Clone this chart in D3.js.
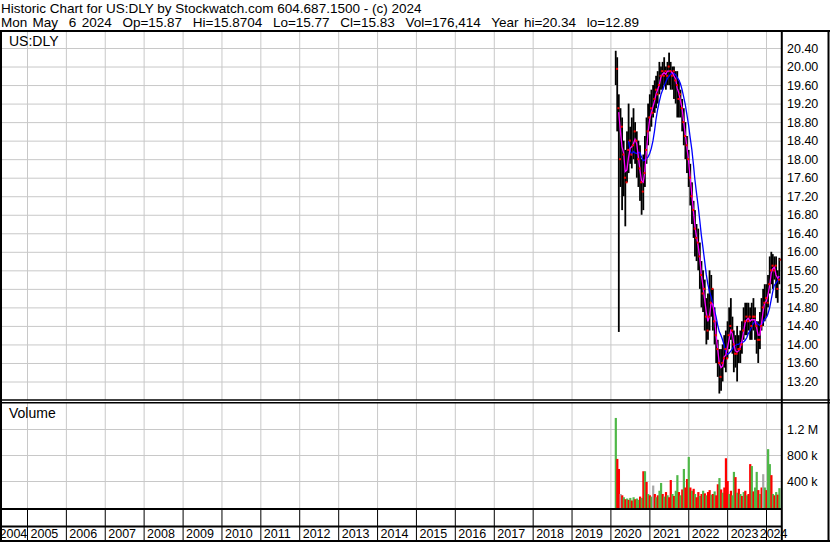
<!DOCTYPE html>
<html>
<head>
<meta charset="utf-8">
<script src="https://cdn.jsdelivr.net/npm/d3@7"></script>
<style>
body{margin:0;background:#fff}
svg{display:block;font-family:"Liberation Sans",Arial,sans-serif}
text{white-space:pre}
</style>
</head>
<body>
<svg></svg>
<script>
const WIDTH = 830
const HEIGHT = 543
const PLOT_L = 2, PLOT_R = 781
const PRICE_T = 32, PRICE_B = 400
const VOL_T = 403, VOL_B = 508

const title = 'Historic Chart for US:DLY by Stockwatch.com 604.687.1500 - (c) 2024'
const subtitle = 'Mon May  6 2024  Op=15.87  Hi=15.8704  Lo=15.77  Cl=15.83  Vol=176,414  Year hi=20.34  lo=12.89'

// half-month bars, Feb 2020 .. May 2024
const highs = [
  20.34,20.2,19.4,19.1,18.9,18.4,18.2,18.6,19.2,18.7,
  18.9,19.1,18.8,18.6,18.4,18.3,18.0,18.1,18.5,18.9,
  19.2,19.4,19.5,19.6,19.7,19.8,19.9,20.1,20.0,20.1,
  20.2,20.0,20.1,20.3,20.1,20.0,20.0,19.9,19.9,19.7,
  19.5,19.3,19.1,18.8,18.5,18.2,17.9,17.5,17.1,16.9,
  16.6,16.5,16.2,15.8,15.6,15.4,15.0,15.1,15.6,15.5,
  15.2,14.8,14.5,14.1,13.9,13.9,14.0,14.2,14.3,14.5,
  14.8,15.0,14.6,14.3,14.2,14.4,14.2,14.3,14.5,14.8,
  14.9,14.9,14.9,14.8,14.9,15.0,14.8,14.5,14.5,14.7,
  15.0,15.2,15.3,15.3,15.5,15.9,16.0,15.95,15.9,15.9,
  15.6,15.87
]
const lows = [
  19.6,18.6,14.27,17.4,16.9,17.2,16.55,17.5,17.7,17.9,
  17.8,18.0,17.9,17.6,17.4,17.1,16.8,16.9,17.4,17.9,
  18.3,18.6,18.7,18.9,19.0,19.1,19.2,19.4,19.5,19.5,
  19.6,19.5,19.6,19.6,19.5,19.5,19.3,19.2,18.9,18.9,
  18.9,18.6,18.3,18.0,17.7,17.4,17.0,16.6,16.3,15.9,
  15.8,15.6,15.2,14.8,14.7,14.3,14.0,14.1,14.3,14.6,
  14.3,14.0,13.6,13.3,12.94,13.0,13.2,13.5,13.4,13.7,
  13.9,14.1,13.8,13.4,13.5,13.2,13.6,13.6,13.8,14.1,
  14.2,14.2,14.3,14.1,14.1,14.3,14.1,13.8,13.6,13.9,
  14.3,14.4,14.5,14.6,14.8,15.1,15.3,15.2,15.4,15.0,
  14.9,15.3
]
const closes = [
  19.95,19.1,18.0,18.7,18.1,17.6,17.5,18.2,18.4,18.1,
  18.3,18.6,18.4,18.0,17.8,17.5,17.3,17.7,18.2,18.6,
  18.9,19.1,19.0,19.3,19.5,19.4,19.6,19.8,19.9,19.8,
  19.9,19.8,20.0,19.9,19.8,19.9,19.7,19.6,19.3,19.4,
  19.1,18.8,18.5,18.3,18.0,17.6,17.2,16.9,16.5,16.3,
  16.2,15.9,15.5,15.1,15.2,14.6,14.3,14.6,14.9,15.2,
  14.5,14.2,13.9,13.6,13.3,13.6,13.7,13.9,13.7,14.2,
  14.4,14.3,14.0,13.8,13.8,13.9,13.9,14.0,14.3,14.5,
  14.6,14.5,14.6,14.4,14.6,14.6,14.4,14.1,14.1,14.4,
  14.8,14.9,15.0,14.9,15.3,15.6,15.7,15.6,15.7,15.2,
  15.4,15.83
]
const volumes = [
  1370,740,585,200,180,150,120,130,110,140,
  100,150,120,130,110,160,140,550,550,385,
  200,180,160,330,200,150,180,250,370,200,
  160,230,180,150,415,200,170,250,490,230,
  180,270,585,300,430,770,300,250,280,200,
  150,230,170,200,250,210,180,230,260,190,
  200,240,180,350,445,270,220,300,750,400,
  200,250,180,540,460,220,280,200,170,230,
  250,180,200,660,630,240,300,540,260,200,
  300,505,300,260,890,660,490,200,180,230,
  190,290
].map(v => v*1000)
const volColors = (
  'grrnrgrgrg' + 'rgrggrgrgr' + 'grgnrgrggr' + 'grgrrgrggr' + 'grgrrgrgrg' +
  'rrgrgrgrrg' + 'rgrrgrgrrr' + 'grggrgrgrg' + 'rgrrgrggrg' + 'rngrggrgrg' + 'rg'
).split('')

const priceTicks = [13.2,13.6,14.0,14.4,14.8,15.2,15.6,16.0,16.4,16.8,17.2,17.6,18.0,18.4,18.8,19.2,19.6,20.0,20.4]
const volTicks = [400000,800000,1200000]
const volLabels = ['400 k','800 k','1.2 M']
const yearTicks = d3.range(2004,2025).map(y => new Date(y,0,1))

// bar dates: 19th and 4th of each month from Feb 2020
const dates = closes.map((c,i) => {
  const k = i+1
  return new Date(2020, 1+Math.floor(k/2), k%2 ? 19 : 4)
})
const bars = closes.map((c,i) => ({date:dates[i], high:highs[i], low:lows[i], close:c, vol:volumes[i], col:volColors[i]}))

const sma = (arr,n) => arr.map((v,i) => i < n-1 ? null : d3.mean(arr.slice(i-n+1,i+1)))
const maShort = sma(closes,3)
const maLong = sma(closes,9)

const svg = d3.select('svg')
  .attr('width',WIDTH)
  .attr('height',HEIGHT)

const x = d3.scaleTime()
  .domain([new Date(2005,0,1), new Date(2024,0,1)])
  .range([27,766])
const yPrice = d3.scaleLinear().domain([13.2,20.4]).range([381.5,48])
const yVol = d3.scaleLinear().domain([0,1600000]).range([507,403])

svg.append('defs').append('clipPath').attr('id','plot')
  .append('rect').attr('x',PLOT_L).attr('y',PRICE_T).attr('width',PLOT_R-PLOT_L).attr('height',VOL_B-PRICE_T)

// header
svg.append('text').attr('x',1).attr('y',13).attr('font-size',13.5).text(title)
svg.append('text').attr('x',1).attr('y',27).attr('font-size',13.5).attr('word-spacing',1.6).text(subtitle)

// grid
const grid = svg.append('g').attr('clip-path','url(#plot)')
grid.append('g')
  .attr('transform',`translate(0,${PRICE_B})`)
  .call(d3.axisBottom(x).tickValues(yearTicks.slice(1)).tickSize(-(PRICE_B-PRICE_T)).tickFormat(''))
grid.append('g')
  .attr('transform',`translate(0,${VOL_B})`)
  .call(d3.axisBottom(x).tickValues(yearTicks.slice(1)).tickSize(-(VOL_B-VOL_T)).tickFormat(''))
grid.append('g')
  .attr('transform',`translate(${PLOT_R},0)`)
  .call(d3.axisLeft(yPrice).tickValues(priceTicks).tickSize(PLOT_R-PLOT_L).tickFormat(''))
grid.append('g')
  .attr('transform',`translate(${PLOT_R},0)`)
  .call(d3.axisLeft(yVol).tickValues(volTicks).tickSize(PLOT_R-PLOT_L).tickFormat(''))
grid.selectAll('.domain').remove()
grid.selectAll('line').attr('stroke','#c8c8c8')

// price bars
const plot = svg.append('g').attr('clip-path','url(#plot)')
plot.append('g').selectAll('rect')
  .data(bars)
  .enter().append('rect')
  .attr('x',d => x(d.date)-0.8)
  .attr('width',1.8)
  .attr('y',d => yPrice(d.high))
  .attr('height',d => yPrice(d.low)-yPrice(d.high))
  .attr('fill','#000')

const line = ma => d3.line()
  .defined((d,i) => ma[i] !== null)
  .x(d => x(d.date))
  .y((d,i) => yPrice(ma[i]))
plot.append('path').datum(bars).attr('d',line(maLong))
  .attr('fill','none').attr('stroke','#0000ff').attr('stroke-width',1.3)
plot.append('path').datum(bars).attr('d',line(maShort))
  .attr('fill','none').attr('stroke','#ff00ff').attr('stroke-width',1.3)

plot.append('g').selectAll('rect')
  .data(bars)
  .enter().append('rect')
  .attr('x',d => x(d.date)+0.3)
  .attr('y',d => yPrice(d.close)-1)
  .attr('width',2)
  .attr('height',2)
  .attr('fill','#ff0000')

// volume bars
const volFill = {g:'#4fb848', r:'#ff0000', n:'#a8a8a8'}
plot.append('g').selectAll('rect')
  .data(bars)
  .enter().append('rect')
  .attr('x',d => x(d.date)-0.9)
  .attr('width',2.2)
  .attr('y',d => yVol(d.vol))
  .attr('height',d => VOL_B-yVol(d.vol))
  .attr('fill',d => volFill[d.col])

svg.append('text').attr('x',9).attr('y',46).attr('font-size',14).text('US:DLY')
svg.append('text').attr('x',9).attr('y',418).attr('font-size',14).text('Volume')

// right axes
const pAxis = svg.append('g')
  .attr('transform',`translate(782,0)`)
  .call(d3.axisRight(yPrice).tickValues(priceTicks).tickSize(0).tickPadding(5).tickFormat(d3.format('.2f')))
const vAxis = svg.append('g')
  .attr('transform',`translate(782,0)`)
  .call(d3.axisRight(yVol).tickValues(volTicks).tickSize(0).tickPadding(5).tickFormat((d,i) => volLabels[i]))
;[pAxis,vAxis].forEach(a => {
  a.select('.domain').remove()
  a.selectAll('text').attr('font-size',12.5).attr('font-family','"Liberation Sans",Arial,sans-serif').attr('fill','#000')
})

// year axis
const xAxis = svg.append('g')
  .attr('transform',`translate(0,${VOL_B+1})`)
  .call(d3.axisBottom(x).tickValues(yearTicks).tickSize(32).tickFormat(d3.timeFormat('%Y')))
xAxis.select('.domain').remove()
xAxis.selectAll('line').attr('stroke','#000')
xAxis.selectAll('text')
  .attr('font-size',12.5)
  .attr('font-family','"Liberation Sans",Arial,sans-serif')
  .attr('fill','#000')
  .attr('dy',0)
  .attr('y',29)
  .attr('text-anchor',(d,i) => i == yearTicks.length-1 ? 'end' : 'start')
  .attr('x',(d,i) => i == 0 ? -x(d)-1 : i == yearTicks.length-1 ? 787-x(d) : 3)

// frame
const frame = svg.append('g').attr('stroke','#000').attr('fill','none')
frame.append('line').attr('x1',0).attr('x2',WIDTH).attr('y1',31).attr('y2',31).attr('stroke-width',2)
frame.append('line').attr('x1',1).attr('x2',1).attr('y1',30).attr('y2',542).attr('stroke-width',2)
frame.append('line').attr('x1',828.5).attr('x2',828.5).attr('y1',30).attr('y2',542).attr('stroke-width',2)
frame.append('line').attr('x1',0).attr('x2',WIDTH).attr('y1',541).attr('y2',541).attr('stroke-width',2)
frame.append('line').attr('x1',781.8).attr('x2',781.8).attr('y1',30).attr('y2',542).attr('stroke-width',2)
frame.append('line').attr('x1',0).attr('x2',WIDTH).attr('y1',400).attr('y2',400).attr('stroke-width',1.5)
frame.append('line').attr('x1',0).attr('x2',WIDTH).attr('y1',402.8).attr('y2',402.8).attr('stroke-width',1.5)
frame.append('line').attr('x1',0).attr('x2',782).attr('y1',509).attr('y2',509).attr('stroke-width',2)
frame.append('line').attr('x1',0).attr('x2',782).attr('y1',526.5).attr('y2',526.5).attr('stroke-width',2)
</script>
</body>
</html>
